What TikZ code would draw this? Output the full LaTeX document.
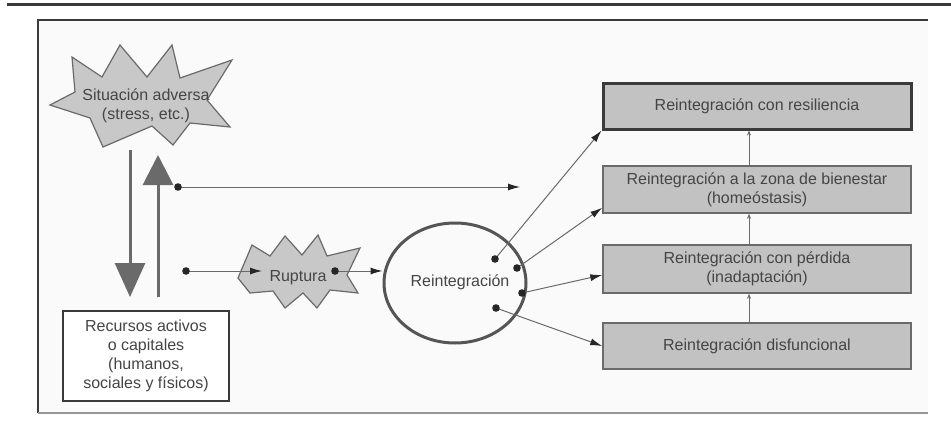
\documentclass[tikz,border=0pt]{standalone}
\usepackage{fontspec}
\setmainfont{Liberation Sans}
\usetikzlibrary{arrows.meta,positioning,calc,shapes.geometric}
\definecolor{boxGray}{HTML}{C2C2C2}
\definecolor{burstGray}{HTML}{C8C8C8}
\definecolor{lineGray}{HTML}{6A6A6A}
\definecolor{darkLine}{HTML}{3A3A3A}
\definecolor{textGray}{HTML}{454545}
\definecolor{paperGray}{HTML}{FAFAFA}
\tikzset{
    stageBox/.style={
        ,   rectangle
        ,   minimum width=308pt
        ,   minimum height=45pt
        ,   fill=boxGray
        ,   draw=lineGray
        ,   line width=1.5pt
        ,   align=center
        ,   text=textGray
    },
    burstColor/.style={
        ,   fill=burstGray
        ,   draw=lineGray
        ,   line width=1.2pt
        ,   line join=miter
    },
    linkLine/.style={
        ,   draw=lineGray
        ,   line width=1pt
        ,   -{Latex[length=12pt,width=7pt,color=black!85]}
    },
    bigArrow/.style={
        ,   draw=lineGray
        ,   line width=3pt
        ,   -{Triangle[length=#1pt,width=30pt]}
    },
    dotEnd/.style={
        ,   fill=black!85
    }
}
\begin{document}
\begin{tikzpicture}[x=1pt, y=-1pt, font={\fontsize{16}{19}\selectfont}, text=textGray]
    \useasboundingbox (0,0) rectangle (951,428);
    % page frame
    \fill[paperGray] (38,20) rectangle (928,413);
    \draw[line width=3pt, draw=darkLine] (7,5) -- (951,5);
    \draw[line width=2pt, draw=darkLine] (38,413) -- (38,20) -- (928,20);
    \draw[line width=2pt, draw=lineGray!70] (38,413) -- (928,413);

    % starbursts
    \draw[burstColor] (50,105) -- (75,92) -- (72,57) -- (102,77) -- (120,45) -- (147,77)
        -- (172,45) -- (180,78) -- (232,60) -- (207,100) -- (230,127) -- (190,123)
        -- (173,145) -- (152,126) -- (103,147) -- (90,118) -- cycle;
    \node[align=center] (adversa) at (146,106) {Situación adversa\\(stress, etc.)};

    \draw[burstColor] (238,278) -- (252,245) -- (270,256) -- (285,236) -- (302,255)
        -- (318,235) -- (327,256) -- (360,248) -- (347,275) -- (358,293) -- (330,290)
        -- (317,308) -- (303,293) -- (285,308) -- (273,291) -- (250,293) -- cycle;
    \node (ruptura) at (298,278) {Ruptura};

    % resources
    \node[draw=darkLine, line width=2pt, fill=white, minimum width=166pt, minimum height=90pt,
          align=center, inner sep=2pt] (recursos) at (146,356)
          {Recursos activos\\o capitales\\(humanos,\\sociales y físicos)};

    \coordinate (downA) at (130,150);
    \coordinate (downB) at (130,297);
    \coordinate (upA) at (158,297);
    \coordinate (upB) at (158,155);
    \draw[bigArrow=34] (downA) -- (downB);
    \draw[bigArrow=30] (upA) -- (upB);

    % reintegration
    \node[ellipse, draw=lineGray!80!black, line width=3pt, minimum width=142pt,
          minimum height=120pt] (reint) at (455,283) {};
    \node at (460,282) {Reintegración};

    \node[stageBox, line width=3pt, draw=darkLine] (res) at (757,106.5) {Reintegración con resiliencia};
    \node[stageBox, minimum height=47pt] (bien) at (757,189.5) {Reintegración a la zona de bienestar\\(homeóstasis)};
    \node[stageBox, minimum height=48pt] (perd) at (757,269) {Reintegración con pérdida\\(inadaptación)};
    \node[stageBox, minimum height=46pt] (disf) at (757,346) {Reintegración disfuncional};

    \foreach \lo/\hi in {bien/res, perd/bien, disf/perd}{
        \draw[draw=lineGray, line width=0.8pt, -{Stealth[length=5pt,width=4pt]}]
            ($(\lo.north)+(-8,0)$) -- ($(\hi.south)+(-8,0)$);
    }

    % links with dots
    \coordinate (topDot) at (178,187);
    \coordinate (topEnd) at (520,187);
    \coordinate (lowDot) at (186,271);
    \coordinate (rupEnd) at (262,271);
    \coordinate (rupDot) at (335,271);
    \coordinate (d1) at (495,259);
    \coordinate (d2) at (517,268);
    \coordinate (d3) at (522,293);
    \coordinate (d4) at (496,308);

    \draw[linkLine] (topDot) -- (topEnd);
    \draw[linkLine] (lowDot) -- (rupEnd);
    \draw[linkLine] (rupDot) -- (rupDot -| reint.west);
    \draw[linkLine] (d1) -- (res.south west);
    \draw[linkLine] (d2) -- ($(bien.south west)+(0,-6)$);
    \draw[linkLine] (d3) -- ($(perd.west)+(0,6)$);
    \draw[linkLine] (d4) -- (disf.west);

    \foreach \p in {topDot, lowDot, rupDot, d1, d2, d3, d4}{
        \fill[dotEnd] (\p) circle (3.8pt);
    }
\end{tikzpicture}
\end{document}
